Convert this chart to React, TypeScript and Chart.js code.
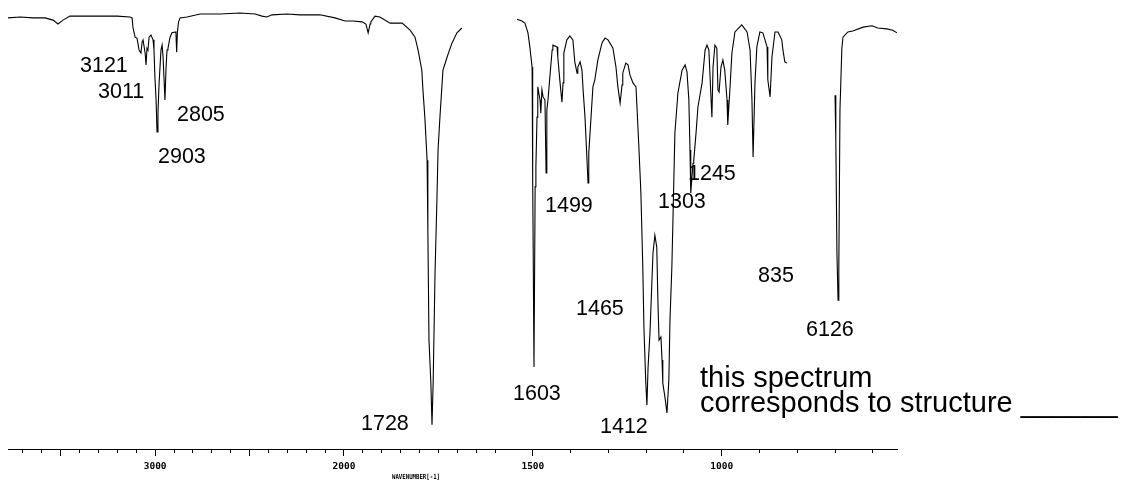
import React, { useEffect, useRef } from "react";
import { Chart, registerables } from "chart.js";

Chart.register(...registerables);

// IR spectrum: wavenumber (cm-1) and % transmittance; null = break in the trace
const wavenumbers: number[] = [
  3779, 3715, 3646, 3583, 3540, 3514, 3488, 3451, 3345, 3265, 3202, 3133, 3122, 3117, 3106, 3096,
  3085, 3075, 3069, 3064, 3053, 3048, 3043, 3038, 3032, 3022, 3011, 3006, 3001, 2995, 2990, 2985,
  2979, 2969, 2963, 2958, 2948, 2942, 2937, 2932, 2921, 2911, 2890, 2886, 2882, 2876, 2868, 2831,
  2762, 2656, 2551, 2471, 2434, 2408, 2381, 2302, 2233, 2127, 2048, 1997, 1976, 1952, 1942, 1936,
  1931, 1929, 1918, 1905, 1878, 1846, 1825, 1812, 1804, 1794, 1791, 1786, 1780, 1778, 1775, 1770,
  1767, 1764, 1759, 1754, 1751, 1746, 1738, 1727, 1714, 1701, 1688,
  1615,
  1542, 1529, 1521, 1513, 1508, 1502, 1501, 1500, 1497, 1494, 1492, 1489, 1487, 1481, 1479, 1476,
  1473, 1468, 1465, 1463, 1460, 1455, 1449, 1447, 1436, 1434, 1428, 1423, 1420, 1418, 1410, 1402,
  1394, 1389, 1383, 1381, 1375, 1370, 1367, 1362, 1357, 1354, 1352, 1346, 1341, 1336, 1328, 1317,
  1309, 1301, 1288, 1280, 1275, 1269, 1264, 1262, 1254, 1248, 1243, 1235, 1227, 1224, 1219, 1214,
  1209, 1206, 1201, 1198, 1195, 1190, 1185, 1182, 1177, 1172, 1169, 1166, 1161, 1158, 1156, 1150,
  1145, 1140, 1137, 1132, 1129, 1124, 1116, 1105, 1097, 1092, 1087, 1084, 1082, 1076, 1074, 1068,
  1063, 1052, 1044, 1039, 1034, 1029, 1026, 1023, 1018, 1013, 1010, 1007, 1002, 997, 992, 986,
  984, 978, 973, 965, 947, 933, 925, 920, 917, 912, 907, 899, 891, 880, 878, 872,
  867, 859, 851, 841, 838, 833, 827,
  765,
  700, 698, 695, 692, 690, 687, 682, 679, 666, 653, 626, 602, 587, 563, 547, 536,
];

const transmittance: (number | null)[] = [
  98.2, 98.4, 98.2, 98.2, 97.7, 96.8, 97.7, 98.6, 98.6, 98.6, 98.6, 98.4, 98.2, 95.9, 93.8, 93.6,
  90.9, 90.2, 92.7, 93.2, 90.2, 87.5, 91.3, 90.9, 93.8, 94.3, 93.2, 90.9, 84.7, 79.5, 72.2, 76.5,
  83.4, 90.9, 92.0, 89.3, 79.5, 87.0, 90.9, 91.3, 93.8, 94.8, 95.0, 90.4, 95.0, 97.3, 98.2, 98.4,
  99.1, 99.1, 99.3, 99.1, 98.6, 98.4, 98.9, 99.1, 98.9, 98.9, 98.2, 97.5, 97.5, 97.3, 96.8, 94.8,
  96.8, 97.3, 98.6, 98.4, 97.0, 97.0, 95.4, 93.8, 90.9, 86.3, 81.8, 75.6, 65.8, 49.9, 24.8, 15.0,
  5.5, 15.0, 40.1, 56.7, 68.1, 75.6, 86.3, 89.3, 92.5, 94.8, 95.9,
  null,
  97.9, 97.5, 97.0, 94.8, 91.6, 87.0, 81.1, 62.0, 18.7, 59.7, 64.2, 75.6, 82.5, 79.5, 76.5, 81.8,
  80.2, 79.5, 62.9, 77.2, 79.5, 84.7, 90.9, 92.0, 91.6, 89.3, 83.4, 79.0, 83.4, 90.2, 93.2, 94.1,
  93.2, 88.2, 85.6, 87.0, 88.2, 86.3, 81.8, 75.6, 66.5, 60.6, 67.4, 75.6, 82.5, 84.1, 88.6, 92.5,
  93.6, 93.2, 91.3, 87.0, 82.5, 78.8, 82.9, 85.6, 87.9, 87.5, 85.2, 83.4, 82.5, 77.2, 68.1, 58.3,
  41.5, 27.8, 15.0, 10.0, 18.7, 26.4, 37.8, 44.6, 48.7, 46.0, 33.9, 24.8, 25.5, 20.3, 15.0, 11.6,
  8.2, 15.7, 29.4, 41.5, 52.8, 72.0, 81.1, 86.3, 87.5, 85.9, 79.5, 68.1, 58.3, 65.1, 65.8, 72.0,
  77.9, 83.4, 90.9, 92.0, 90.9, 81.1, 75.6, 87.0, 92.0, 91.3, 81.8, 81.3, 87.0, 88.6, 86.3, 79.5,
  73.8, 82.5, 90.2, 95.0, 96.6, 95.0, 90.9, 79.5, 66.5, 83.4, 91.6, 95.0, 94.8, 91.6, 84.1, 80.2,
  89.3, 95.0, 95.0, 93.2, 90.9, 88.2, 87.9,
  null,
  80.6, 70.4, 44.6, 33.9, 41.5, 77.2, 91.3, 93.8, 95.0, 95.2, 96.1, 96.4, 95.9, 95.7, 95.4, 94.8,
];

// Axis: 4000-2000 cm-1 drawn at half the scale of 2000-400 cm-1
const axisRange = [3779, 536];
const majorTicks = [3500, 3000, 2500, 2000, 1500, 1000];
const minorTicks = [
  3700, 3600, 3400, 3300, 3200, 3100, 2900, 2800, 2700, 2600, 2400, 2300, 2200, 2100,
  1950, 1900, 1850, 1800, 1750, 1700, 1650, 1600, 1400, 1300, 1200, 1100, 900, 800, 700, 600,
];
const tickLabels = [3000, 2000, 1500, 1000];
const axisTitle = "WAVENUMBER[-1]";

// Peak annotations (text) and caption
const peakLabels = ["3121", "3011", "2805", "2903", "1728", "1603", "1499", "1465", "1412", "1303", "1245", "835", "6126"];
const captionLines = ["this spectrum", "corresponds to structure ______"];

// Layout of the annotation texts (page pixels: left, baseline)
const peakLabelPos: [number, number][] = [
  [80, 72], [98, 98], [177, 121], [158, 163], [361, 430], [513, 400], [545, 212],
  [576, 315], [600, 433], [658, 208], [688, 180], [758, 282], [806, 336],
];
const captionPos: [number, number][] = [[700, 387], [700, 412]];

const BREAK = 2000;
const toAxis = (wn: number) => (wn > BREAK ? BREAK + (wn - BREAK) / 2 : wn);
const fromAxis = (v: number) => (v > BREAK ? BREAK + (v - BREAK) * 2 : v);
const isMajor = (v: number) => majorTicks.some((w) => Math.abs(toAxis(w) - v) < 0.01);

const annotationPlugin = {
  id: "annotations",
  afterDraw(chart: any) {
    const ctx = chart.ctx;
    ctx.save();
    ctx.fillStyle = "#000";
    ctx.textBaseline = "alphabetic";
    ctx.textAlign = "left";
    ctx.font = '21.5px "Liberation Sans", Arial, sans-serif';
    peakLabels.forEach((t, i) => {
      ctx.fillText(t, peakLabelPos[i][0], peakLabelPos[i][1]);
    });
    ctx.font = '29px "Liberation Sans", Arial, sans-serif';
    captionLines.forEach((t, i) => {
      ctx.fillText(t, captionPos[i][0], captionPos[i][1]);
    });
    ctx.font = 'bold 7px "DejaVu Sans Mono", monospace';
    ctx.fillText(axisTitle, 392, 479, 48);
    ctx.restore();
  },
};

export default function App() {
  const canvasRef = useRef<HTMLCanvasElement | null>(null);

  useEffect(() => {
    if (!canvasRef.current) return;
    const points = wavenumbers.map((w, i) => ({ x: toAxis(w), y: transmittance[i] }));
    const chart = new Chart(canvasRef.current, {
      type: "line",
      data: {
        datasets: [
          {
            data: points as any,
            borderColor: "#000",
            borderWidth: 1.1,
            pointRadius: 0,
            tension: 0,
            spanGaps: false,
            fill: false,
          },
        ],
      },
      options: {
        animation: false,
        responsive: false,
        devicePixelRatio: 1,
        layout: { padding: { left: 8, right: 239, top: 10, bottom: 0 } },
        plugins: { legend: { display: false }, tooltip: { enabled: false }, title: { display: false } },
        scales: {
          x: {
            type: "linear",
            reverse: true,
            min: toAxis(axisRange[1]),
            max: toAxis(axisRange[0]),
            afterBuildTicks: (scale: any) => {
              scale.ticks = [...majorTicks, ...minorTicks]
                .map((w) => toAxis(w))
                .sort((a, b) => a - b)
                .map((v) => ({ value: v }));
            },
            afterFit: (scale: any) => {
              scale.height = 34;
            },
            ticks: {
              autoSkip: false,
              maxRotation: 0,
              minRotation: 0,
              padding: 5,
              color: "#000",
              font: { family: '"DejaVu Sans Mono", monospace', size: 9.5, weight: "bold" },
              callback: (value: any) => {
                const w = Math.round(fromAxis(Number(value)));
                return tickLabels.includes(w) ? String(w) : "";
              },
            },
            grid: {
              display: true,
              drawOnChartArea: false,
              drawTicks: true,
              tickLength: 7,
              tickWidth: 1,
              tickColor: "#000",
              tickBorderDash: (ctx: any) => (ctx.tick && isMajor(ctx.tick.value) ? [] : [3, 20]),
            } as any,
            border: { display: true, color: "#000", width: 1 },
          },
          y: {
            display: false,
            min: 0,
            max: 100,
          },
        },
      },
      plugins: [annotationPlugin],
    });
    return () => chart.destroy();
  }, []);

  return (
    <div style={{ position: "absolute", left: 0, top: 0, width: 1136, height: 483, background: "#fff" }}>
      <canvas ref={canvasRef} width={1136} height={483} style={{ display: "block" }} />
    </div>
  );
}
